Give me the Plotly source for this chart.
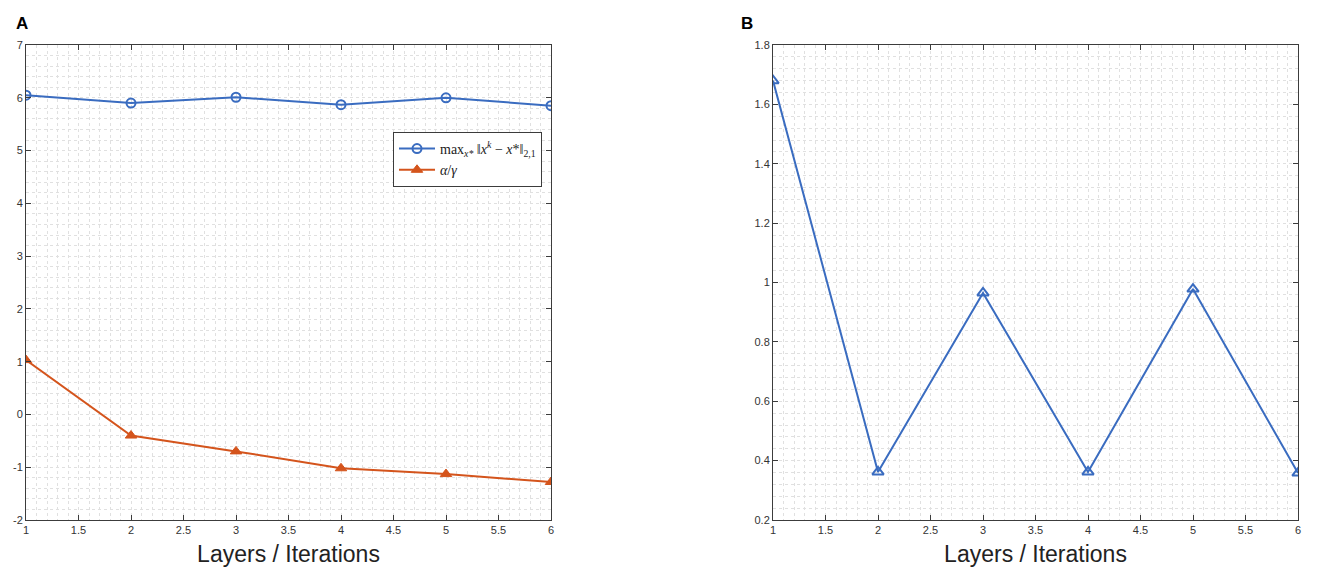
import plotly.graph_objects as go

# Panel A
layers = [1, 2, 3, 4, 5, 6]
max_dist = [6.05, 5.90, 6.01, 5.87, 6.00, 5.85]
alpha_gamma = [1.03, -0.40, -0.70, -1.02, -1.13, -1.28]

# Panel B
panel_b = [1.68, 0.362, 0.965, 0.362, 0.978, 0.358]

x_ticks = [1, 1.5, 2, 2.5, 3, 3.5, 4, 4.5, 5, 5.5, 6]
y_ticks_a = [-2, -1, 0, 1, 2, 3, 4, 5, 6, 7]
y_ticks_b = [0.2, 0.4, 0.6, 0.8, 1.0, 1.2, 1.4, 1.6, 1.8]

BLUE = "#3a6cc0"
ORANGE = "#d4541c"
AXIS = "#3c3c3c"
GRID = "#e0e0e0"
SANS = "Liberation Sans, Arial, sans-serif"
TICKFONT = dict(family=SANS, size=11, color="#333333")

# the page body has an 8px margin, so the figure is drawn 8px in from the window edge
OFF = 8
W, H = 1325 - 2 * OFF, 580 - 2 * OFF
# plot area in window pixels: x 26..1298, y 45..520
ML, MT = 26 - OFF, 45 - OFF
MR, MB = W - (1298 - OFF), H - (520 - OFF)
PW = W - ML - MR
PH = H - MT - MB


def px_x(p):
    return (p - OFF - ML) / PW


def px_y(p):
    return 1 - (p - OFF - MT) / PH


fig = go.Figure()

fig.add_trace(go.Scatter(
    x=layers, y=max_dist, mode="lines+markers",
    name="max<sub><i>x*</i></sub> ‖<i>x</i><sup><i>k</i></sup> − <i>x</i>*‖<sub>2,1</sub>",
    line=dict(color=BLUE, width=2),
    marker=dict(symbol="circle-open", size=9, color=BLUE, line=dict(width=2)),
    xaxis="x", yaxis="y",
))
fig.add_trace(go.Scatter(
    x=layers, y=alpha_gamma, mode="lines+markers",
    name="<i>α</i>/<i>γ</i>",
    line=dict(color=ORANGE, width=2),
    marker=dict(symbol="triangle-up", size=10, color=ORANGE, line=dict(width=1, color=ORANGE)),
    xaxis="x", yaxis="y",
))
fig.add_trace(go.Scatter(
    x=layers, y=panel_b, mode="lines+markers",
    showlegend=False,
    line=dict(color=BLUE, width=2),
    marker=dict(symbol="triangle-up-open", size=10, color=BLUE, line=dict(width=2)),
    xaxis="x2", yaxis="y2",
))


def x_axis(domain, anchor):
    return dict(
        domain=domain, anchor=anchor, range=[1, 6], automargin=False,
        tickvals=x_ticks, ticktext=[f"{v:g}" for v in x_ticks],
        ticks="inside", ticklen=5, tickcolor=AXIS, mirror="ticks",
        showline=True, linecolor=AXIS, linewidth=1,
        showgrid=True, gridcolor=GRID, griddash="dot", gridwidth=1,
        minor=dict(dtick=0.1, showgrid=True, gridcolor=GRID, griddash="dot", gridwidth=1),
        zeroline=False, tickfont=TICKFONT,
        title=dict(text="Layers / Iterations", standoff=10,
                   font=dict(family=SANS, size=23, color="#222222")),
    )


def y_axis(domain, anchor, rng, vals, minor_dtick):
    return dict(
        domain=domain, anchor=anchor, range=rng, automargin=False,
        tickvals=vals, ticktext=[f"{v:g}" for v in vals],
        ticks="inside", ticklen=5, tickcolor=AXIS, mirror="ticks",
        showline=True, linecolor=AXIS, linewidth=1,
        showgrid=True, gridcolor=GRID, griddash="dot", gridwidth=1,
        minor=dict(dtick=minor_dtick, showgrid=True, gridcolor=GRID, griddash="dot", gridwidth=1),
        zeroline=False, tickfont=TICKFONT,
    )


fig.update_layout(
    width=W, height=H,
    margin=dict(l=ML, r=MR, t=MT, b=MB),
    paper_bgcolor="white", plot_bgcolor="white",
    xaxis=x_axis([px_x(26), px_x(551)], "y"),
    yaxis=y_axis([0, 1], "x", [-2, 7], y_ticks_a, 0.2),
    xaxis2=x_axis([px_x(773), px_x(1298)], "y2"),
    yaxis2=y_axis([0, 1], "x2", [0.2, 1.8], y_ticks_b, 0.04),
    legend=dict(
        x=px_x(393), y=px_y(132), xanchor="left", yanchor="top",
        bgcolor="white", bordercolor=AXIS, borderwidth=1,
        font=dict(family="Liberation Serif, DejaVu Serif, serif", size=14, color="#222222"),
        tracegroupgap=0, itemwidth=36,
    ),
    showlegend=True,
    annotations=[
        dict(text="<b>A</b>", x=px_x(14), y=px_y(12), xref="paper", yref="paper",
             showarrow=False, font=dict(family=SANS, size=17, color="black")),
        dict(text="<b>B</b>", x=px_x(747), y=px_y(12), xref="paper", yref="paper",
             showarrow=False, font=dict(family=SANS, size=17, color="black")),
    ],
)

fig.write_html("out.html")
